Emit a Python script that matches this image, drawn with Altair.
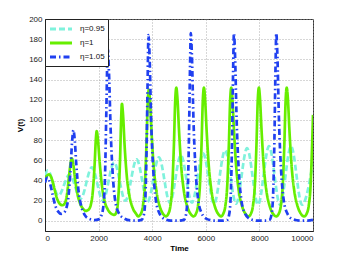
import altair as alt
import pandas as pd

series_names = ["η=0.95", "η=1", "η=1.05"]
colors = ["#7ff2dc", "#66ee00", "#2040f0"]

t_a = [0, 100, 500, 920, 1330, 1750, 2160, 2580, 3000, 3420, 3830, 4250, 4660,
       5070, 5480, 5900, 6310, 6720, 7130, 7540, 7950, 8360, 8770, 9180, 9590, 10000]
v_a = [45, 50, 25, 46, 22, 53, 20, 58, 20, 61, 19, 63, 18,
       65, 18, 67, 17, 70, 17, 72, 16, 74, 16, 74, 16, 58]

t_b = [0, 60, 150, 250, 350, 450, 550, 650, 750, 830, 900, 960, 1000, 1050, 1120,
       1200, 1300, 1420, 1520, 1620, 1700, 1780, 1850, 1900, 1930, 1970, 2040, 2120,
       2220, 2350, 2480, 2590, 2680, 2740, 2800, 2840, 2870, 2910, 2970, 3050, 3150,
       3270, 3400, 3475, 3575, 3655, 3725, 3785, 3835, 3875, 3915, 3975, 4055, 4155,
       4275, 4405, 4510, 4600, 4680, 4750, 4810, 4860, 4900, 4940, 5000, 5080, 5180,
       5300, 5430, 5550, 5630, 5710, 5780, 5840, 5890, 5930, 5970, 6030, 6110, 6210,
       6330, 6460, 6580, 6650, 6730, 6800, 6860, 6910, 6950, 6990, 7050, 7130, 7230,
       7350, 7480, 7600, 7680, 7760, 7830, 7890, 7940, 7980, 8020, 8080, 8160, 8260,
       8380, 8510, 8630, 8720, 8800, 8870, 8930, 8980, 9020, 9060, 9120, 9200, 9300,
       9420, 9550, 9670, 9760, 9840, 9910, 9960, 10000]
v_b = [39, 44, 46, 42, 32, 22, 17, 15.5, 18, 28, 45, 58, 62, 57, 42,
       28, 18, 12, 10, 11, 15, 28, 55, 82, 89, 82, 58, 36,
       20, 11, 7, 6, 10, 25, 60, 100, 116, 106, 75, 45, 25,
       13, 7, 4.5, 7, 15, 35, 75, 118, 130, 120, 88, 54, 30,
       15, 7, 4.5, 7, 15, 35, 75, 120, 132, 122, 90, 55, 30,
       15, 7, 4.5, 7, 15, 35, 75, 120, 132, 122, 90, 55, 30,
       15, 7, 4.5, 7, 15, 35, 75, 120, 132, 122, 90, 55, 30,
       15, 7, 4.5, 7, 15, 35, 75, 120, 132, 122, 90, 55, 30,
       15, 7, 4.5, 7, 15, 35, 75, 120, 132, 122, 90, 55, 30,
       15, 7, 4.5, 7, 15, 35, 70, 105]

t_c = [0, 50, 100, 200, 300, 400, 500, 600, 700, 800, 880, 950, 1010, 1060, 1110,
       1170, 1250, 1350, 1480, 1650, 1850, 2000, 2100, 2180, 2240, 2290, 2340, 2390,
       2450, 2530, 2620, 2750, 2950, 3200, 3450, 3600, 3680, 3740, 3790, 3830, 3860,
       3900, 3960, 4040, 4130, 4260, 4450, 4700, 5000, 5180, 5260, 5320, 5370, 5410,
       5440, 5480, 5540, 5620, 5710, 5840, 6030, 6300, 6600, 6800, 6870, 6930, 6980,
       7020, 7050, 7090, 7150, 7230, 7320, 7450, 7640, 7900, 8200, 8380, 8450, 8510,
       8560, 8600, 8630, 8670, 8730, 8810, 8900, 9030, 9220, 9500, 9800, 10000]
v_c = [38, 42, 43, 36, 24, 14, 9, 7, 8, 13, 25, 50, 78, 90, 80,
       55, 30, 15, 6, 2, 0.8, 1.5, 5, 15, 45, 110, 171, 145,
       90, 45, 20, 8, 2.5, 0.5, 0.3, 1, 5, 20, 70, 140, 184,
       165, 100, 50, 22, 8, 2, 0.3, 0.2, 1, 6, 25, 80, 150,
       186, 165, 100, 50, 22, 8, 2, 0.3, 0.2, 1, 6, 25, 80,
       150, 186, 165, 100, 50, 22, 8, 2, 0.3, 0.2, 1, 6, 25,
       80, 150, 186, 165, 100, 50, 22, 8, 2, 0.3, 0.2, 1]

rows = []
for name, ts, vs in zip(series_names, [t_a, t_b, t_c], [v_a, v_b, v_c]):
    for t, v in zip(ts, vs):
        rows.append({"Time": t, "V": v, "series": name})
df = pd.DataFrame(rows)

x_ticks = [0, 2000, 4000, 6000, 8000, 10000]
y_ticks = [0, 20, 40, 60, 80, 100, 120, 140, 160, 180, 200]

chart = alt.Chart(df).mark_line(strokeWidth=2.7, interpolate="monotone", clip=True).encode(
    x=alt.X("Time:Q", scale=alt.Scale(domain=[0, 10000], nice=False),
            axis=alt.Axis(values=x_ticks, format="d", title="Time", titleX=134, titleY=17,
                          titleBaseline="middle")),
    y=alt.Y("V:Q", scale=alt.Scale(domain=[-10, 200], nice=False, zero=False),
            axis=alt.Axis(values=y_ticks, format="d", title="V(t)", titleX=-25, titleY=106,
                          titleBaseline="middle", titleAngle=-90)),
    color=alt.Color("series:N", scale=alt.Scale(domain=series_names, range=colors),
                    legend=alt.Legend(title=None, orient="top-left")),
    strokeDash=alt.StrokeDash("series:N",
                              scale=alt.Scale(domain=series_names,
                                              range=[[6, 3], [1, 0], [6, 3, 1.5, 3]]),
                              legend=alt.Legend(title=None, orient="top-left")),
).properties(
    width=268, height=212,
    autosize=alt.AutoSizeParams(type="none"),
    padding={"left": 37, "top": 11, "right": 25, "bottom": 21},
).configure_view(
    stroke="#333", strokeWidth=1
).configure_axis(
    labelFont="Liberation Sans", labelFontSize=8, labelColor="#222",
    titleFont="Liberation Sans", titleFontSize=8, titleFontWeight="bold", titleColor="#000",
    grid=True, gridColor="#999", gridDash=[1, 2], gridWidth=0.8,
    domainColor="#222", ticks=False, labelPadding=3,
).configure_legend(
    offset=0, padding=3, strokeColor="#222", fillColor="white", cornerRadius=0,
    labelFont="Liberation Sans", labelFontSize=8, labelColor="#111",
    symbolType="M-2,0H2", symbolSize=121, symbolStrokeWidth=3,
    symbolOffset=6, labelOffset=12, rowPadding=1,
)

chart.save("out.html", embed_options={"renderer": "svg", "actions": False})
